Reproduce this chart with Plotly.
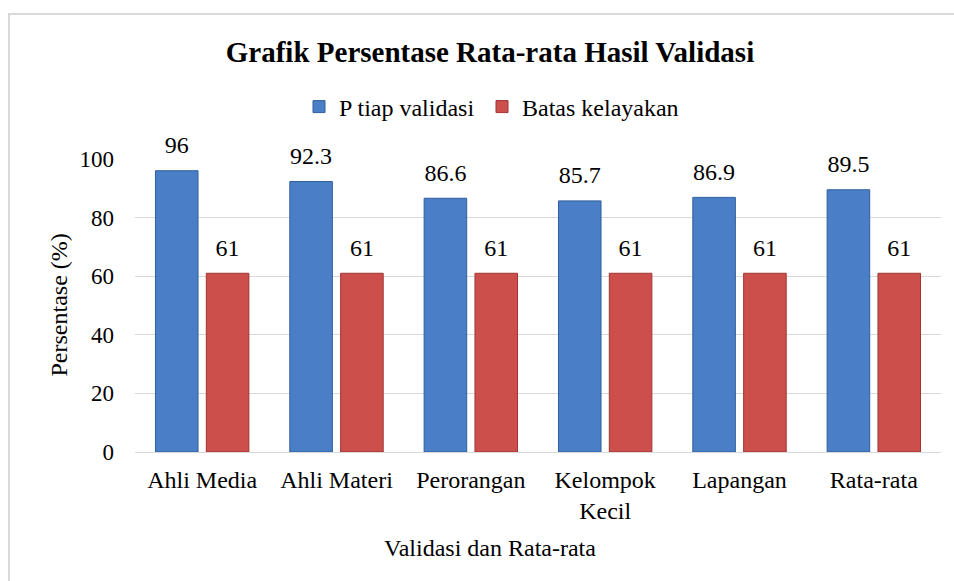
import plotly.graph_objects as go

categories = ["Ahli Media", "Ahli Materi", "Perorangan", "Kelompok<br>Kecil", "Lapangan", "Rata-rata"]
p_tiap_validasi = [96, 92.3, 86.6, 85.7, 86.9, 89.5]
batas_kelayakan = [61, 61, 61, 61, 61, 61]
series_names = ["P tiap validasi", "Batas kelayakan"]
y_ticks = [0, 20, 40, 60, 80, 100]

FONT = "Liberation Serif"
blue = "#4a7ec6"
red = "#cd4f4c"

fig = go.Figure()
fig.add_trace(go.Bar(x=categories, y=p_tiap_validasi, name=series_names[0], offsetgroup="a", legend="legend",
                     marker=dict(color=blue, line=dict(color="#2f5f9e", width=1))))
fig.add_trace(go.Bar(x=categories, y=batas_kelayakan, name=series_names[1], offsetgroup="b", legend="legend2",
                     marker=dict(color=red, line=dict(color="#9e3533", width=1))))
for vals, grp in [(p_tiap_validasi, "a"), (batas_kelayakan, "b")]:
    fig.add_trace(go.Scatter(x=categories, y=vals, offsetgroup=grp, mode="markers+text",
                             text=[f"{v:g}" for v in vals], textposition="top center",
                             marker=dict(size=17, opacity=0), showlegend=False, hoverinfo="skip",
                             textfont=dict(family=FONT, size=24, color="#000"), cliponaxis=False))

legend_style = dict(orientation="h", xref="container", yref="container", y=1-107/581,
                    xanchor="left", yanchor="middle", font=dict(family=FONT, size=24, color="#000"),
                    bgcolor="rgba(0,0,0,0)")

fig.update_layout(
    width=954, height=581,
    margin=dict(l=135, r=13, t=159, b=129),
    paper_bgcolor="white", plot_bgcolor="white",
    barmode="group", bargap=0.243, bargroupgap=0.163,
    scattermode="group", scattergap=0.243,
    font=dict(family=FONT, size=24, color="#000"),
    title=dict(text="<b>Grafik Persentase Rata-rata Hasil Validasi</b>", xref="container", yref="container",
               x=490/954, y=1-52/581, xanchor="center", yanchor="middle",
               font=dict(family=FONT, size=29, color="#000")),
    legend=dict(x=299/954, **legend_style),
    legend2=dict(x=482/954, **legend_style),
    showlegend=True,
)
fig.update_yaxes(range=[0, 100], tickvals=y_ticks, showgrid=True, gridcolor="#d9d9d9", gridwidth=1,
                 zeroline=True, zerolinecolor="#d9d9d9", zerolinewidth=1, showline=False,
                 ticks="", ticklabelstandoff=20, tickfont=dict(family=FONT, size=23, color="#000"))
fig.update_xaxes(showline=False, ticks="", ticklabelstandoff=11, tickfont=dict(family=FONT, size=24, color="#000"))

fig.add_annotation(text="Persentase (%)", xref="paper", yref="paper", x=(58-135)/806, y=0.5,
                   textangle=-90, showarrow=False, xanchor="center", yanchor="middle",
                   font=dict(family=FONT, size=24, color="#000"))
fig.add_annotation(text="Validasi dan Rata-rata", xref="paper", yref="paper", x=(490-135)/806, y=(452-548)/293,
                   showarrow=False, xanchor="center", yanchor="middle",
                   font=dict(family=FONT, size=24, color="#000"))
fig.add_shape(type="rect", xref="paper", yref="paper", x0=(9-135)/806, x1=1.2, y0=-0.8, y1=(452-14)/293,
              line=dict(color="#d9d9d9", width=2), fillcolor="rgba(0,0,0,0)", layer="below")

fig.write_html("out.html", config={"displayModeBar": False}, post_script="document.body.style.margin='0';")
